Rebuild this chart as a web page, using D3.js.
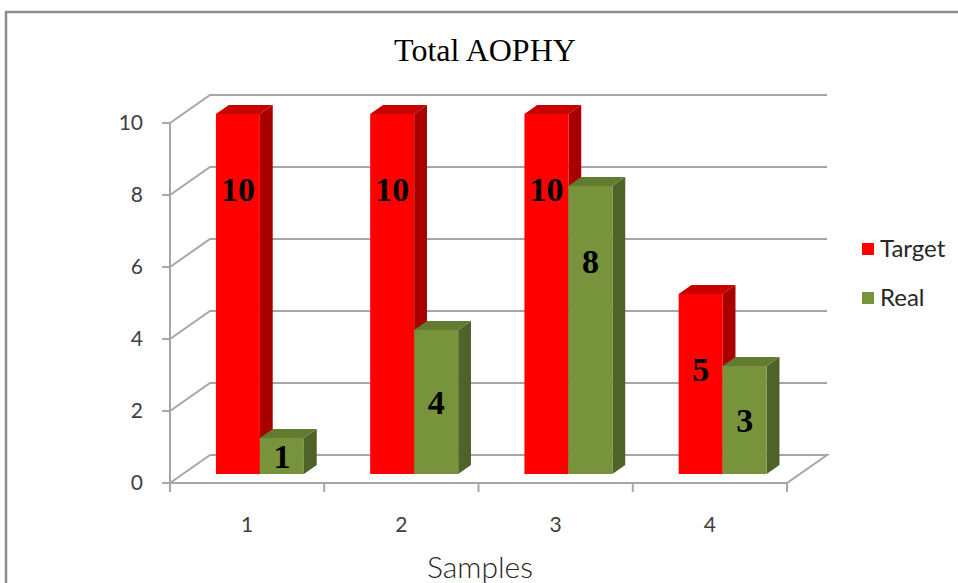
<!DOCTYPE html>
<html>
<head>
<meta charset="utf-8">
<script src="https://cdn.jsdelivr.net/npm/d3@7"></script>
<style>
  html, body { margin: 0; padding: 0; background: #fff; }
  svg { display: block; }
</style>
</head>
<body>
<svg id="chart" width="958" height="583"></svg>
<script>
// Chart data
const categories = ["1", "2", "3", "4"];
const seriesNames = ["Target", "Real"];
const targetValues = [10, 10, 10, 5];
const realValues = [1, 4, 8, 3];
const yTicks = [0, 2, 4, 6, 8, 10];
const chartTitle = "Total AOPHY";
const xAxisTitle = "Samples";

const seriesValues = [targetValues, realValues];
const colors = {
  Target: { front: "#ff0000", top: "#c80000", side: "#a80000" },
  Real:   { front: "#77933c", top: "#627b30", side: "#4f6228" }
};

const svg = d3.select("#chart");

// Pseudo-3D geometry: the floor recedes by (depthX, depthY) from front to back
const depthX = 40, depthY = -28;
const barFront = 0.32, barBack = 0.64;

const x = d3.scaleBand().domain(categories).range([170, 787]).padding(0);
const xs = d3.scaleBand().domain(seriesNames).range([0, x.bandwidth()])
  .paddingInner(0).paddingOuter(0.753);
const y = d3.scaleLinear().domain([0, 10]).range([483, 123]);

const P = (px, v, d) => [px + d * depthX, y(v) + d * depthY];
const poly = pts => "M" + pts.map(p => p.join(",")).join("L") + "Z";

const gridColor = "#a6a6a6";

// Outer chart frame
svg.append("rect")
  .attr("x", 6).attr("y", 12).attr("width", 1000).attr("height", 700)
  .attr("fill", "none").attr("stroke", "#8c8c8c").attr("stroke-width", 2.5);

// Back wall gridlines and side wall diagonals
const grid = svg.append("g").attr("stroke", gridColor).attr("stroke-width", 2).attr("fill", "none");
yTicks.forEach(t => {
  const a = P(170, t, 0), b = P(170, t, 1), c = P(787, t, 1);
  grid.append("path").attr("d", `M${a}L${b}` + (t > 0 ? `L${c}` : ""));
});

// Floor outline
const fl = [P(170, 0, 0), P(787, 0, 0), P(787, 0, 1), P(170, 0, 1)];
grid.append("path").attr("d", `M${fl[0]}L${fl[1]}L${fl[2]}L${fl[3]}`);

// Value axis line and tick marks
grid.append("line").attr("x1", 170).attr("x2", 170).attr("y1", y(10)).attr("y2", y(0) + 8);
yTicks.forEach(t => {
  grid.append("line").attr("x1", 162).attr("x2", 170).attr("y1", y(t)).attr("y2", y(t));
});
// Category tick marks
x.domain().concat(["end"]).forEach((c, i) => {
  const px = 170 + i * x.bandwidth();
  grid.append("line").attr("x1", px).attr("x2", px).attr("y1", y(0)).attr("y2", y(0) + 9);
});

// Tick labels
const tickFont = "Lato, 'Open Sans', sans-serif";
svg.append("g").selectAll("text").data(yTicks).join("text")
  .attr("x", 143).attr("y", d => y(d)).attr("dy", "0.35em")
  .attr("text-anchor", "end")
  .attr("font-family", tickFont).attr("font-size", 21).attr("fill", "#404040")
  .text(d => d);

svg.append("g").selectAll("text").data(categories).join("text")
  .attr("x", d => x(d) + x.bandwidth() / 2).attr("y", 525).attr("dy", "0.35em")
  .attr("text-anchor", "middle")
  .attr("font-family", tickFont).attr("font-size", 21).attr("fill", "#404040")
  .text(d => d);

// Bars (drawn left to right so nearer faces overlap correctly)
const bars = svg.append("g");
const labels = [];
categories.forEach((cat, ci) => {
  seriesNames.forEach((s, si) => {
    const v = seriesValues[si][ci];
    const x0 = x(cat) + xs(s), x1 = x0 + xs.bandwidth();
    const col = colors[s];
    const g = bars.append("g");
    // side face
    g.append("path").attr("fill", col.side)
      .attr("d", poly([P(x1, 0, barFront), P(x1, v, barFront), P(x1, v, barBack), P(x1, 0, barBack)]));
    // top face
    g.append("path").attr("fill", col.top)
      .attr("d", poly([P(x0, v, barFront), P(x1, v, barFront), P(x1, v, barBack), P(x0, v, barBack)]));
    // front face
    g.append("path").attr("fill", col.front)
      .attr("d", poly([P(x0, 0, barFront), P(x1, 0, barFront), P(x1, v, barFront), P(x0, v, barFront)]));
    const top = P(x0, v, barFront), bottom = P(x0, 0, barFront);
    const h = bottom[1] - top[1];
    labels.push({ v, cx: (P(x0, v, barFront)[0] + P(x1, v, barFront)[0]) / 2, cy: top[1] + Math.min(h / 2, 75) });
  });
});

// Value labels
svg.append("g").selectAll("text").data(labels).join("text")
  .attr("x", d => d.cx).attr("y", d => d.cy).attr("dy", "0.35em")
  .attr("text-anchor", "middle")
  .attr("font-family", "'Liberation Serif', 'Times New Roman', serif")
  .attr("font-weight", "bold").attr("font-size", 34).attr("fill", "#000")
  .text(d => d.v);

// Title
svg.append("text")
  .attr("x", 485).attr("y", 61).attr("text-anchor", "middle")
  .attr("font-family", "'Liberation Serif', 'Times New Roman', serif")
  .attr("font-size", 32).attr("fill", "#000")
  .text(chartTitle);

// Axis title
svg.append("text")
  .attr("x", 480).attr("y", 578).attr("text-anchor", "middle")
  .attr("font-family", tickFont).attr("font-weight", 300)
  .attr("font-size", 30).attr("fill", "#262626")
  .text(xAxisTitle);

// Legend
const legend = svg.append("g");
seriesNames.forEach((s, i) => {
  const ly = 249 + i * 49;
  legend.append("rect").attr("x", 862).attr("y", ly - 6).attr("width", 12).attr("height", 12)
    .attr("fill", colors[s].front);
  legend.append("text").attr("x", 880).attr("y", ly).attr("dy", "0.35em")
    .attr("font-family", tickFont).attr("font-size", 24).attr("fill", "#262626")
    .text(s);
});
</script>
</body>
</html>
